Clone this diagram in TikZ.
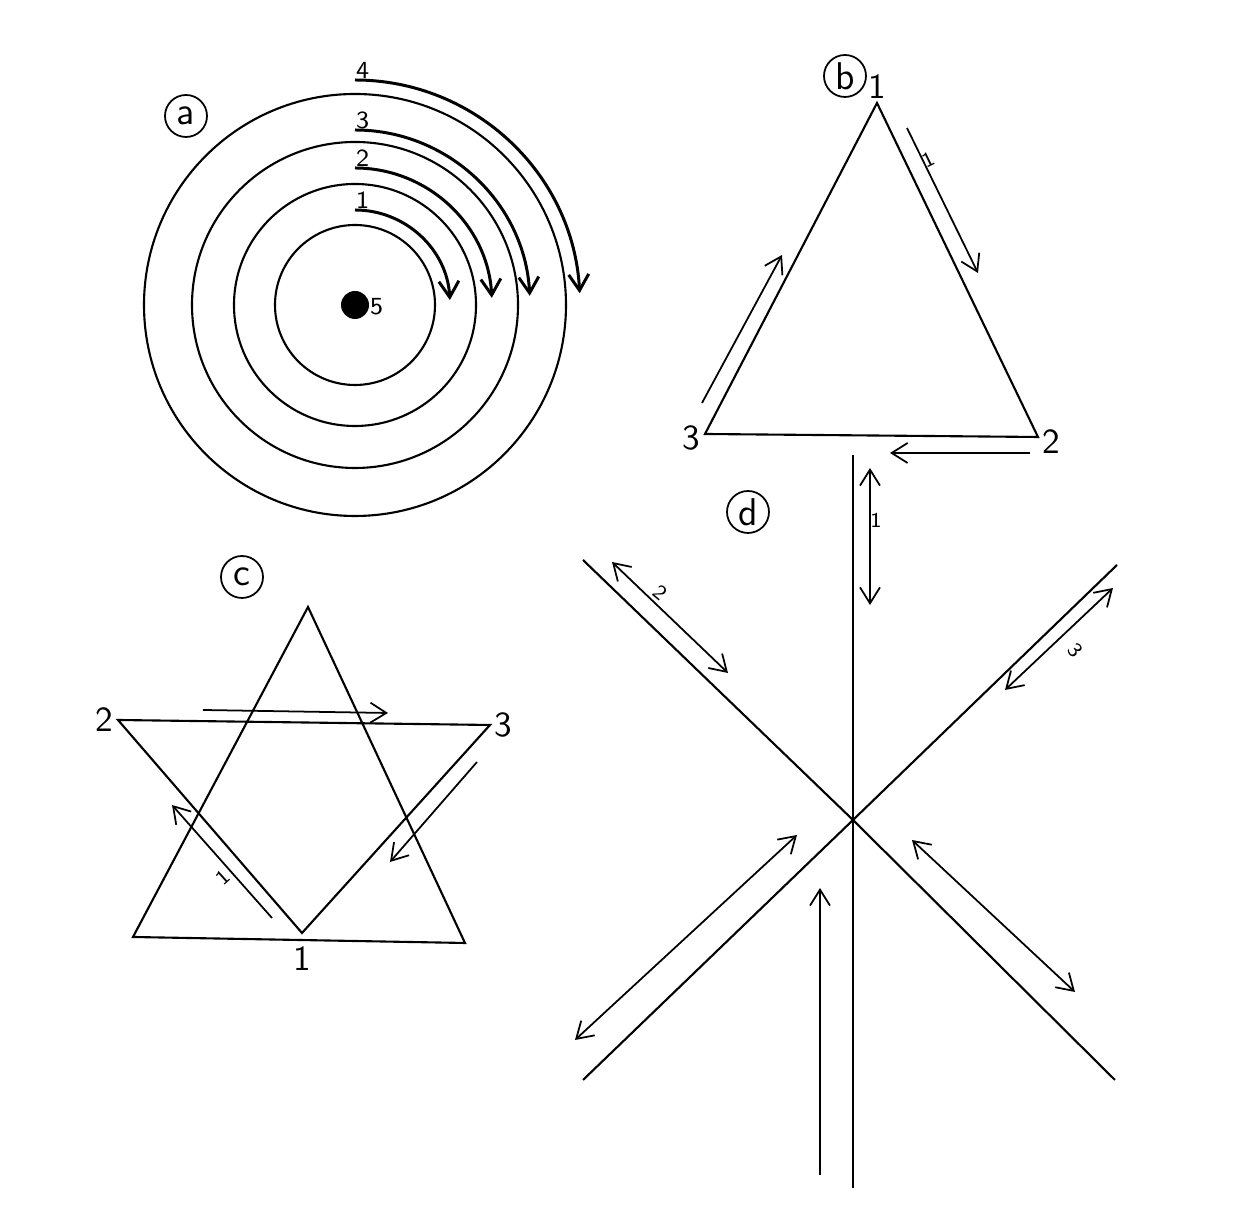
\documentclass[tikz,border=0pt]{standalone}
\usepackage{tikz}
\usetikzlibrary{arrows.meta,calc}

\begin{document}
\begin{tikzpicture}[x=0.1mm, y=0.1mm, line width=0.6pt,
    punta/.tip={Straight Barb[length=1.6mm,width=2mm]},
    flecha/.style={-punta, line width=0.5pt},
    doble/.style={punta-punta, line width=0.5pt},
    letra/.style={circle, draw, line width=0.5pt, minimum size=4.2mm, inner sep=0pt, font=\sffamily\fontsize{11}{11}\selectfont},
    num/.style={font=\sffamily\fontsize{10}{10}\selectfont, inner sep=1pt},
    mini/.style={font=\sffamily\fontsize{6}{6}\selectfont, inner sep=0pt}]
  \useasboundingbox (0,0) rectangle (1256,1214);

  % (a) Circulos concentricos
  \coordinate (a0) at (355,909);
  \node[letra] (la) at (186,1098) {a};
  \foreach \r in {80,121,163,211}
    \draw (a0) circle (\r);
  \fill (a0) circle (14);
  \node[mini, font=\sffamily\fontsize{7}{7}\selectfont, anchor=west] (a5) at (369,907) {5};
  % Giros 1 a 4
  \foreach \r/\n in {95/1, 137/2, 175/3, 225/4} {
    \draw[flecha, line width=0.85pt] ($(a0)+(0,\r)$) coordinate (s\n) arc[start angle=90, end angle=3, radius=\r];
    \node[mini, font=\sffamily\fontsize{7}{7}\selectfont, anchor=south west] (na\n) at (s\n) {\n};
  }

  % (b) Triangulo
  \node[letra] (lb) at (845,1138) {b};
  \coordinate (b1) at (877,1111);
  \coordinate (b2) at (1038,777);
  \coordinate (b3) at (705,780);
  \draw (b1) -- (b2) -- (b3) -- cycle;
  \node[num, anchor=south] (nb1) at (b1) {1};
  \node[num, anchor=west] (nb2) at (1038,772) {2};
  \node[num, anchor=east] (nb3) at (705,776) {3};
  \draw[flecha] (907,1086) -- (978,941);
  \node[mini, rotate=26] (mb) at (928,1054) {1};
  \draw[flecha] (1030,761) -- (890,761);
  \draw[flecha] (702,811) -- (782,959);

  % (c) Estrella
  \node[letra] (lc) at (242,637) {c};
  \coordinate (c0) at (308,607);
  \coordinate (c4) at (133,277);
  \coordinate (c5) at (465,271);
  \coordinate (c1) at (302,281);
  \coordinate (c2) at (118,494);
  \coordinate (c3) at (490,489);
  \draw (c0) -- (c5) -- (c4) -- cycle;
  \draw (c2) -- (c3) -- (c1) -- cycle;
  \node[num, anchor=north] (nc1) at (302,272) {1};
  \node[num, anchor=east] (nc2) at (c2) {2};
  \node[num, anchor=west] (nc3) at (c3) {3};
  \draw[flecha] (203,504) -- (388,501);
  \draw[flecha] (477,452) -- (390,352);
  \draw[flecha] (272,296) -- (172,409);
  \node[mini, rotate=42] (mc) at (223,337) {1};

  % (d) Cruz
  \node[letra] (ld) at (748,702) {d};
  \coordinate (d0) at (853,394);
  \draw (853,759) -- (853,26);
  \draw (583,654) -- (d0) -- (1115,134);
  \draw (1117,649) -- (d0) -- (583,134);
  \draw[doble] (870,746) -- (870,609);
  \node[mini] (md1) at (876,694) {1};
  \draw[doble] (612,652) -- (728,541);
  \node[mini, rotate=-40] (md2) at (660,621) {2};
  \draw[doble] (1113,626) -- (1005,524);
  \node[mini, rotate=-50] (md3) at (1075,564) {3};
  \draw[doble] (797,379) -- (575,174);
  \draw[doble] (912,374) -- (1075,222);
  \draw[flecha] (820,39) -- (820,326);
\end{tikzpicture}
\end{document}
